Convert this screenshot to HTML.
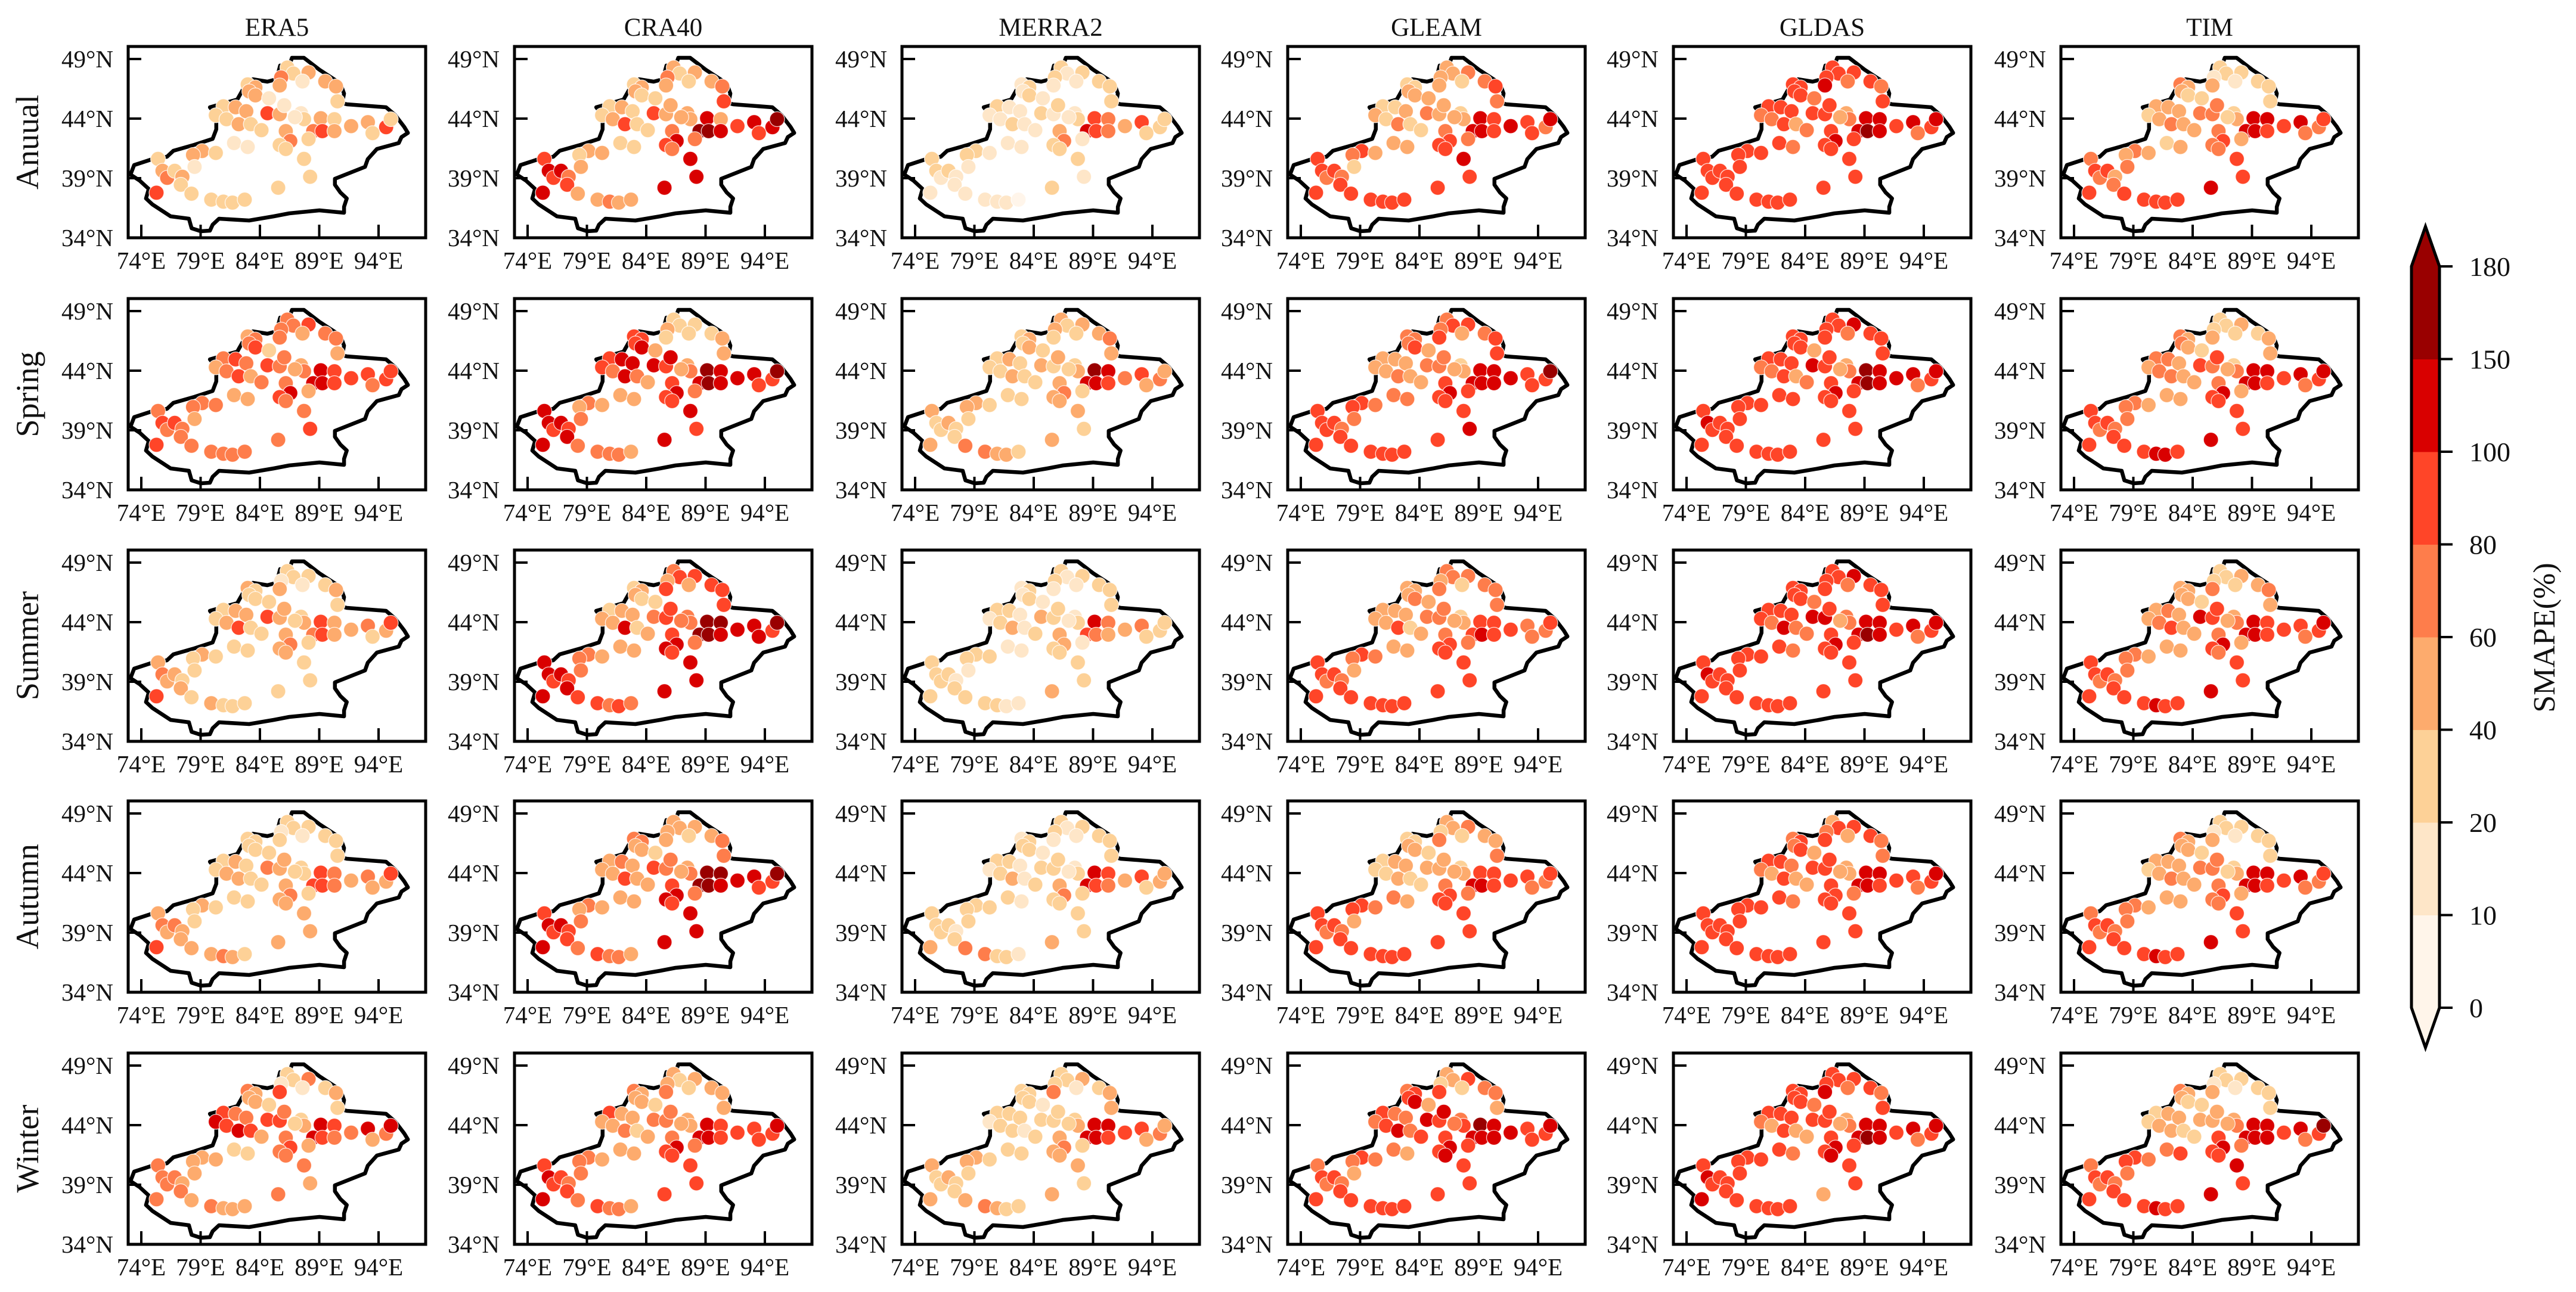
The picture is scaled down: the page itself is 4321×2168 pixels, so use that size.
<!DOCTYPE html>
<html><head><meta charset="utf-8"><style>
html,body{margin:0;padding:0;background:#fff;}
svg{display:block;font-family:"Liberation Serif","Times New Roman",serif;}
</style></head><body>
<svg id="fig" width="4321" height="2168" viewBox="0 0 4321 2168" xmlns="http://www.w3.org/2000/svg"></svg>
<script>
// ---------- data ----------
const columns = ["ERA5","CRA40","MERRA2","GLEAM","GLDAS","TIM"];
const rows = ["Anuual","Spring","Summer","Autumn","Winter"];
const lonTicks = [74,79,84,89,94];
const latTicks = [49,44,39,34];
const cbTicks = [0,10,20,40,60,80,100,150,180];
const cbColors = ["#fff5ea","#fee6c8","#fdd197","#fdab6d","#fe7d4b","#ff4528","#d90000","#990000"];
const stationLon = [86.31,86.82,88.10,85.79,85.67,87.59,89.51,90.41,82.97,83.62,83.10,83.62,84.77,90.54,80.92,81.95,82.85,84.64,85.67,86.05,80.28,81.18,82.21,83.23,84.13,87.46,87.72,89.13,90.28,88.49,89.26,90.28,91.69,93.10,94.64,95.03,93.49,86.18,86.56,85.67,88.10,87.72,88.23,85.54,81.82,82.97,79.13,78.36,80.28,78.49,75.41,75.79,76.18,76.82,77.46,77.33,75.28,78.23,79.90,80.92,81.69,82.72,86.18,86.95];
const stationLat = [48.28,47.78,47.87,47.45,46.78,47.12,47.12,46.70,46.87,46.62,46.28,45.95,45.70,45.45,45.03,44.95,44.62,44.45,44.37,45.12,44.28,43.95,43.53,43.53,43.03,44.45,43.95,44.03,43.95,42.95,42.95,42.95,43.37,43.70,43.28,43.95,42.78,42.95,42.12,41.78,42.28,40.62,39.12,38.20,41.95,41.62,41.28,40.95,41.12,39.95,40.62,39.62,39.03,39.62,39.12,38.45,37.78,37.70,37.20,37.03,36.95,37.20,41.45,44.12];

const annualERA5   = [25,25,50,65,50,15,40,55, 30,40,45,55,15, 20, 30,50,50,85,50,15,30,30,55,20,35, 15,25,45,20, 70,90,50,50,50,85,30,20, 40,65,30,20, 30,30,30, 15,15,55,55,35, 15,30,45,65,25,50,30,85, 35,35,30,20,20, 30,15];
const annualCRA40  = [45,35,55,60,50,25,55,65, 30,40,45,35,20, 85, 30,45,35,85,40,50,25,40,90,30,35, 50,45,120,45, 160,165,120,90,100,110,165,95, 70,120,90,60, 110,110,120, 20,25,50,30,40, 40,90,110,85,100,60,90,110, 50,55,60,50,40, 70,50];
const annualMERRA2 = [20,15,25,20,15,10,25,30, 15,20,15,20,10, 20, 20,15,15,25,15,20,10,15,20,10,15, 10,25,90,70, 110,90,60,45,85,30,30,25, 45,60,20,15, 20,15,30, 15,10,20,25,15, 10,25,20,15,20,10,15,10, 15,10,15,10,5, 30,10];
const annualGLEAM  = [45,50,65,40,55,30,70,80, 25,30,40,55,45, 70, 30,35,45,60,50,55,40,35,60,30,35, 30,45,100,80, 110,120,90,100,85,70,105,80, 70,90,85,60, 100,85,85, 50,45,85,60,55, 35,80,90,70,85,60,90,80, 80,90,85,80,85, 80,40];
const annualGLDAS  = [80,90,95,85,100,70,85,70, 85,90,80,95,60, 85, 90,85,80,95,90,80,70,60,90,50,60, 55,60,130,110, 130,150,110,95,100,90,110,70, 90,100,95,80, 90,95,90, 80,70,90,85,80, 85,90,95,80,90,85,85,90, 80,90,85,90,80, 95,50];
const annualTIM    = [25,20,30,15,40,15,20,30, 60,45,50,35,25, 30, 40,55,45,70,60,65,35,55,65,40,45, 30,50,110,100, 120,130,90,85,100,70,95,60, 60,90,70,40, 85,90,120, 35,40,60,55,45, 60,70,85,60,80,55,70,90, 85,90,95,85,80, 70,35];

const springERA5   = [70,65,85,60,70,40,60,70, 50,75,60,80,35, 55, 60,80,70,90,65,75,45,60,85,50,60, 40,70,110,85, 100,110,90,85,90,80,95,70, 75,100,80,55, 70,85,60, 50,45,75,70,60, 55,75,85,70,80,65,75,85, 65,70,75,70,60, 70,40];
const springCRA40  = [30,25,35,40,30,20,30,45, 80,90,85,100,40, 45, 90,100,110,120,95,100,80,70,120,60,50, 50,60,150,130, 130,165,110,100,120,90,170,95, 90,110,95,75, 100,90,110, 40,45,60,50,45, 60,100,110,90,100,80,100,110, 65,70,70,60,55, 85,55];
const springMERRA2 = [40,35,55,45,30,25,55,60, 30,40,35,45,25, 40, 35,40,30,45,35,40,25,30,45,25,30, 30,45,160,100, 130,110,85,70,95,60,55,50, 55,75,40,30, 50,35,55, 30,25,40,45,35, 30,40,35,30,40,25,30,45, 60,75,55,45,25, 45,25];
const springGLEAM  = [70,85,80,60,90,40,75,85, 60,75,65,90,40, 85, 50,45,55,70,65,60,45,40,70,40,45, 35,50,120,110, 130,120,110,100,90,80,150,85, 85,110,95,80, 90,100,80, 70,65,90,85,75, 60,85,95,80,90,75,90,85, 85,90,95,90,85, 95,45];
const springGLDAS  = [90,95,100,85,95,70,90,80, 90,95,85,90,55, 90, 95,90,85,100,90,85,75,60,90,55,60, 50,60,150,130, 140,160,120,100,110,90,110,70, 90,110,95,80, 90,95,90, 85,80,95,90,80, 90,95,110,85,95,90,90,95, 85,90,90,95,85, 95,50];
const springTIM    = [30,25,40,20,50,20,30,40, 60,55,60,45,30, 40, 60,70,55,80,75,80,40,65,75,45,50, 35,60,120,110, 120,130,95,85,110,80,100,70, 70,100,85,50, 90,95,120, 45,50,70,65,55, 70,80,95,75,90,65,85,95, 90,95,110,100,85, 80,40];

const summerERA5   = [25,20,35,15,45,15,25,40, 40,30,35,30,20, 25, 35,45,40,85,50,55,30,45,85,30,35, 25,40,90,50, 70,90,55,50,60,50,85,35, 40,60,45,30, 30,35,30, 20,25,45,35,30, 25,45,60,40,55,35,50,85, 35,40,35,30,25, 40,20];
const summerCRA40  = [70,85,90,55,80,40,85,95, 30,40,45,35,25, 90, 35,45,40,70,80,85,50,40,100,30,40, 60,70,165,150, 165,160,110,100,120,90,165,100, 90,130,110,70, 120,110,130, 40,45,70,60,55, 60,100,120,90,110,80,100,130, 80,90,70,80,60, 85,70];
const summerMERRA2 = [20,15,25,20,15,10,25,30, 15,20,15,20,10, 20, 20,25,15,45,30,25,15,20,40,15,20, 15,30,110,60, 90,70,50,40,70,30,30,25, 40,55,20,15, 25,20,40, 15,10,25,30,20, 15,30,25,20,25,15,20,30, 25,30,20,15,10, 30,10];
const summerGLEAM  = [60,65,70,50,60,35,60,65, 40,45,55,65,40, 70, 40,50,55,75,70,70,50,40,80,35,40, 35,45,85,80, 90,100,80,85,70,60,90,60, 70,90,85,60, 90,85,80, 50,55,85,75,60, 55,85,90,75,85,70,85,80, 85,90,80,85,80, 85,40];
const summerGLDAS  = [90,95,100,85,95,75,90,80, 85,90,90,95,60, 85, 90,95,85,100,100,95,85,70,100,60,70, 60,70,140,110, 120,150,100,95,100,90,110,75, 90,100,95,80, 95,90,90, 85,75,95,90,85, 85,95,100,85,95,85,90,90, 85,90,85,90,80, 95,55];
const summerTIM    = [35,30,45,25,70,20,40,60, 50,45,50,40,30, 40, 50,65,55,120,80,80,45,60,85,45,50, 40,60,100,90, 110,100,90,85,95,80,100,70, 70,100,85,50, 90,85,120, 40,45,65,60,50, 70,80,90,70,90,65,80,90, 85,90,100,90,80, 75,40];

const autumnERA5   = [25,20,30,15,35,15,25,35, 30,25,35,30,20, 20, 30,40,35,60,45,50,30,40,55,30,35, 25,35,80,60, 85,90,70,55,70,50,80,40, 45,70,50,35, 45,55,40, 20,25,45,35,30, 30,50,65,45,60,40,55,80, 45,55,60,50,35, 45,20];
const autumnCRA40  = [45,40,55,50,45,30,50,60, 65,60,55,45,35, 75, 50,60,55,90,70,75,40,55,90,40,45, 50,60,165,150, 165,160,110,100,120,85,165,95, 85,120,100,70, 110,100,120, 40,50,65,55,45, 60,95,110,90,100,80,95,110, 70,85,75,70,55, 80,55];
const autumnMERRA2 = [20,15,25,20,15,10,25,30, 15,20,25,20,10, 25, 20,25,15,35,25,25,15,20,40,15,20, 15,30,130,90, 100,80,60,50,80,40,40,35, 45,60,25,20, 30,20,45, 20,15,30,35,25, 20,35,30,25,30,15,25,40, 60,70,30,25,15, 35,15];
const autumnGLEAM  = [40,55,60,35,70,25,45,55, 30,35,40,55,30, 60, 35,40,45,55,45,45,35,30,55,25,30, 25,40,85,80, 100,110,85,90,80,70,95,65, 70,90,85,60, 90,90,80, 60,55,90,80,65, 55,85,90,75,85,70,85,85, 85,90,85,85,80, 85,40];
const autumnGLDAS  = [55,85,90,60,85,50,80,70, 70,80,75,85,45, 70, 80,85,75,90,85,80,60,50,85,45,55, 45,55,130,100, 110,130,90,95,95,85,105,70, 85,95,90,75, 90,90,85, 80,70,90,85,80, 85,90,95,80,90,85,85,90, 80,90,85,85,80, 90,45];
const autumnTIM    = [25,20,30,15,50,15,25,35, 60,45,50,40,25, 35, 40,55,45,75,60,65,35,55,70,40,45, 30,50,110,100, 115,120,90,85,100,75,95,60, 60,95,75,45, 90,90,120, 45,50,70,60,55, 65,75,90,65,85,60,80,90, 85,90,100,90,80, 70,35];

const winterERA5   = [25,20,60,15,85,15,30,55, 60,50,55,45,20, 20, 90,65,60,90,85,70,120,90,120,80,40, 25,45,120,95, 100,90,60,70,100,60,120,50, 70,90,70,55, 60,55,70, 30,35,55,45,40, 40,65,70,60,65,45,60,60, 55,60,55,50,40, 60,20];
const winterCRA40  = [40,35,55,50,60,30,50,55, 70,55,55,45,30, 50, 90,50,45,70,60,60,40,45,70,35,40, 40,50,110,90, 100,110,95,90,85,80,120,85, 75,100,85,70, 90,80,85, 45,50,70,60,55, 60,90,100,85,95,75,90,100, 65,80,75,65,50, 80,40];
const winterMERRA2 = [20,25,50,20,60,15,30,45, 20,30,35,25,15, 45, 20,25,20,35,30,30,15,20,35,15,20, 25,40,120,100, 110,100,80,90,95,60,50,45, 55,70,40,30, 45,30,50, 30,25,45,50,35, 25,40,35,30,40,20,30,45, 55,60,45,35,25, 55,20];
const winterGLEAM  = [40,45,85,35,80,30,60,70, 70,90,85,100,40, 45, 80,60,75,110,95,100,60,80,120,70,80, 60,80,150,120, 130,120,110,100,90,85,110,80, 90,110,95,80, 90,90,80, 60,55,80,75,65, 50,75,85,70,80,65,80,85, 80,90,85,85,80, 100,60];
const winterGLDAS  = [90,85,95,80,100,70,85,75, 90,85,80,95,60, 80, 90,85,80,95,90,80,60,55,90,45,55, 55,60,130,110, 130,160,110,95,100,90,110,75, 85,110,95,80, 85,90,45, 80,75,90,85,80, 85,90,100,80,90,85,90,100, 85,90,85,90,85, 100,50];
const winterTIM    = [25,20,30,15,40,15,20,30, 60,40,45,35,20, 30, 35,45,40,55,45,50,25,40,55,30,35, 40,60,120,110, 120,130,100,95,110,90,165,70, 80,110,90,60, 100,90,120, 70,80,90,85,75, 60,75,90,65,85,60,80,95, 85,90,110,95,80, 90,40];

const panelValues = [
  [annualERA5,annualCRA40,annualMERRA2,annualGLEAM,annualGLDAS,annualTIM],
  [springERA5,springCRA40,springMERRA2,springGLEAM,springGLDAS,springTIM],
  [summerERA5,summerCRA40,summerMERRA2,summerGLEAM,summerGLDAS,summerTIM],
  [autumnERA5,autumnCRA40,autumnMERRA2,autumnGLEAM,autumnGLDAS,autumnTIM],
  [winterERA5,winterCRA40,winterMERRA2,winterGLEAM,winterGLDAS,winterTIM]
];

// ---------- layout ----------
const NS = "http://www.w3.org/2000/svg";
const svg = document.getElementById("fig");
const frameLefts = [215,863,1513,2160,2807,3457];
const frameTops = [78,501,923,1344,1767];
const FW = 499, FH = 321;
const PXLON = 19.9, PXLAT = 20;
const outlinePx = [[183,19],[193,19],[210,39],[220,49],[233,62],[237,79],[235,95],[240,97],[283,102],[293,115],[303,135],[307,145],[300,152],[297,162],[273,172],[263,189],[260,202],[227,222],[227,232],[233,245],[240,255],[237,269],[237,279],[210,275],[177,280],[160,285],[133,292],[100,289],[93,299],[90,309],[80,310],[70,305],[67,289],[47,285],[27,265],[20,255],[23,239],[13,225],[3,215],[7,199],[27,189],[43,185],[50,175],[73,165],[93,155],[97,139],[97,115],[90,102],[120,89],[130,62],[137,55],[153,59],[163,55],[167,32],[177,32],[180,19]];
const outlineLonLat = outlinePx.map(p => [72.859 + p[0]/13, 50.05 - p[1]/20]);

function el(tag, attrs, parent){
  const e = document.createElementNS(NS, tag);
  for (const k in attrs) e.setAttribute(k, attrs[k]);
  (parent||svg).appendChild(e);
  return e;
}
function colorFor(v){
  for (let i=cbTicks.length-2;i>=0;i--) if (v>=cbTicks[i]) return cbColors[i];
  return cbColors[0];
}

for (let r=0;r<rows.length;r++){
  for (let c=0;c<columns.length;c++){
    const L = frameLefts[c], T = frameTops[r];
    const xS = lon => L + 22 + (lon-74)*PXLON;
    const yS = lat => T + 21 + (49-lat)*PXLAT;
    const g = el("g", {});
    
    
    const pts = outlineLonLat.map(p => xS(p[0]).toFixed(1)+","+yS(p[1]).toFixed(1)).join(" ");
    const poly = el("polygon", {points:pts, fill:"none", stroke:"#000", "stroke-width":6.5, "stroke-linejoin":"round"}, g);
    
    
    const vals = panelValues[r][c];
    for (let i=0;i<stationLon.length;i++){
      const dot = el("circle", {cx:xS(stationLon[i]).toFixed(1), cy:yS(stationLat[i]).toFixed(1), r:12.5, fill:colorFor(vals[i]), stroke:"#fff", "stroke-width":1.3, "stroke-opacity":0.8}, g);
      
      
    }
    const fr = el("rect", {x:L, y:T, width:FW, height:FH, fill:"none", stroke:"#000", "stroke-width":5}, g);
    
    
    lonTicks.forEach(lon => {
      const x = xS(lon);
      const tk = el("line", {x1:x, x2:x, y1:T+FH, y2:T+FH-22, stroke:"#000", "stroke-width":4}, g);
      
      
      const t = el("text", {x:x, y:T+FH+52, "font-size":41, "text-anchor":"middle", fill:"#111"}, g);
      t.textContent = lon + "°E";
      
      
    });
    latTicks.forEach(lat => {
      const y = yS(lat);
      const tk = el("line", {x1:L, x2:L+22, y1:y, y2:y, stroke:"#000", "stroke-width":4}, g);
      
      
      const t = el("text", {x:L-25, y:y+14, "font-size":41, "text-anchor":"end", fill:"#111"}, g);
      t.textContent = lat + "°N";
      
      
    });
    if (r===0){
      const t = el("text", {x:L+FW/2, y:T-18, "font-size":43, "text-anchor":"middle", fill:"#111"});
      t.textContent = columns[c];
      
      
    }
  }
  const cy = frameTops[r] + FH/2;
  const rl = el("text", {x:0, y:0, "font-size":54, "text-anchor":"middle", fill:"#111", transform:"translate(64,"+cy+") rotate(-90)"});
  rl.textContent = rows[r];
  
  
}

// ---------- colorbar ----------
const CBX0 = 4045, CBX1 = 4092, CBTOP = 447, CBSEG = 155.5, CBMID = (CBX0+CBX1)/2;
const cb = el("g", {});


const nSeg = cbTicks.length-1;
const cbBottom = CBTOP + nSeg*CBSEG;
for (let i=0;i<nSeg;i++){
  const yTop = cbBottom - (i+1)*CBSEG;
  const seg = el("rect", {x:CBX0, y:yTop, width:CBX1-CBX0, height:CBSEG+0.5, fill:cbColors[i]}, cb);
  
  
}
const up = el("polygon", {points:`${CBX0},${CBTOP} ${CBMID},${CBTOP-67} ${CBX1},${CBTOP}`, fill:cbColors[nSeg-1]}, cb);


const dn = el("polygon", {points:`${CBX0},${cbBottom} ${CBMID},${cbBottom+67} ${CBX1},${cbBottom}`, fill:cbColors[0]}, cb);


const ol = el("polygon", {points:`${CBX0},${CBTOP} ${CBMID},${CBTOP-67} ${CBX1},${CBTOP} ${CBX1},${cbBottom} ${CBMID},${cbBottom+67} ${CBX0},${cbBottom}`, fill:"none", stroke:"#000", "stroke-width":5}, cb);


cbTicks.forEach((v,i) => {
  const y = cbBottom - i*CBSEG;
  const tk = el("line", {x1:CBX1, x2:CBX1+22, y1:y, y2:y, stroke:"#000", "stroke-width":4}, cb);
  
  
  const t = el("text", {x:4142, y:y+16, "font-size":46, fill:"#111"}, cb);
  t.textContent = v;
  
  
});
const cbl = el("text", {x:0, y:0, "font-size":52, "text-anchor":"middle", fill:"#111", transform:"translate(4285,1070) rotate(-90)"}, cb);
cbl.textContent = "SMAPE(%)";


</script>
</body></html>
